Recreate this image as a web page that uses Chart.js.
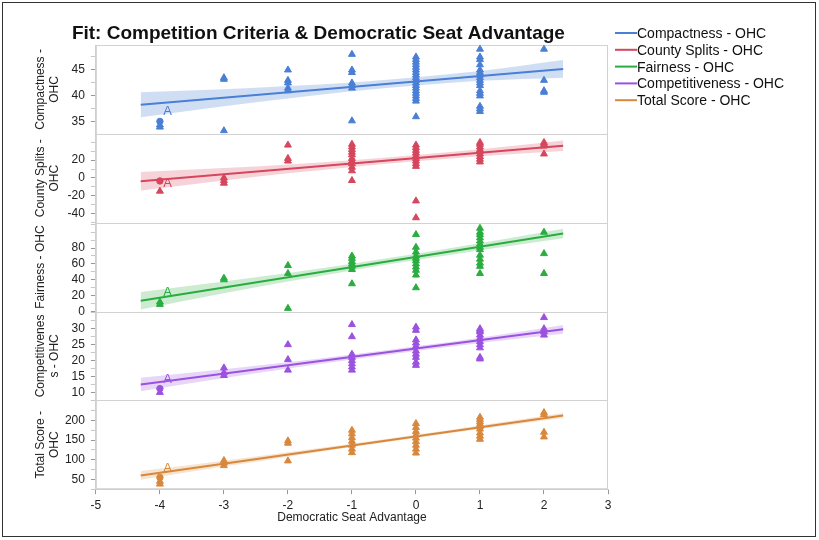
<!DOCTYPE html>
<html>
<head>
<meta charset="utf-8">
<title>Fit: Competition Criteria & Democratic Seat Advantage</title>
<script src="https://cdn.jsdelivr.net/npm/chart.js@4"></script>
<style>
  html, body { margin: 0; padding: 0; background: #fff; }
  #wrap { position: relative; width: 819px; height: 540px; }
  #grafico { position: absolute; left: 0; top: 0; }
  #moldura { position: absolute; left: 2px; top: 2px; width: 814px; height: 535px; box-sizing: border-box; border: 1.5px solid #333; pointer-events: none; }
</style>
</head>
<body>
<div id="wrap">
  <canvas id="grafico" width="819" height="540"></canvas>
  <div id="moldura"></div>
</div>
<script>
// seat advantage values (x), one list of scores per x value
const seatAdv = [-4, -3, -2, -1, 0, 1, 2];

const compactness = [
  [34.4, 34.0],
  [43.5, 43.2, 33.3],
  [45, 43, 42.5, 41.5, 41],
  [48, 45, 44.5, 42.5, 42, 41.5, 35.2],
  [47.5, 47, 46.5, 46, 45.5, 45, 44.5, 44, 43.5, 43, 42.5, 42, 41.5, 41, 40.5, 40, 39.5, 39, 36],
  [49, 47.5, 47, 46, 45, 44.5, 44, 43.5, 43, 42.5, 42, 41, 40.5, 40, 38, 37.5, 37],
  [49, 43, 41, 40.7]
];
const countySplits = [
  [-15],
  [0, -3, -6],
  [37, 22, 19],
  [38, 35, 32, 29, 26, 22, 19, 16, 12, 8, -3],
  [37, 34, 31, 28, 25, 22, 19, 16, 13, -26, -45],
  [40, 38, 35, 32, 30, 27, 24, 21, 18],
  [40, 38, 36, 27]
];
const fairness = [
  [12, 9],
  [42, 40],
  [58, 48, 4],
  [70, 67, 63, 60, 57, 53, 35],
  [97, 81, 75, 70, 67, 64, 60, 56, 52, 46, 30],
  [105, 100, 97, 93, 89, 85, 81, 78, 71, 66, 61, 57, 48],
  [100, 73, 48]
];
const competitiveness = [
  [10],
  [17.7, 16.2, 15.3],
  [25, 20.3, 17],
  [31.3, 27.5, 22, 21, 20, 19, 18, 17],
  [30.5, 29.5, 26.5, 25.5, 24.5, 23, 22, 21, 19.5, 18.5],
  [30, 29.5, 29, 28, 27, 26, 25, 24, 21, 20.5],
  [33.5, 30, 29, 28]
];
const totalScore = [
  [45, 38],
  [98, 92, 85],
  [148, 142, 97],
  [175, 166, 156, 147, 137, 127, 118],
  [192, 182, 172, 163, 155, 146, 137, 127, 117],
  [208, 202, 196, 190, 184, 178, 168, 160, 152],
  [220, 215, 170, 158]
];

// round markers at x = -4
const dotX = -4;
const compactDots = [35.1];
const countyDots = [-3.5];
const fairDots = [];
const compDots = [11.2];
const totalDots = [55];

// fitted lines
const fitX = [-4.3, 2.3];
const fitCompact = [38.3, 45.2];
const fitCounty = [-3.9, 36.3];
const fitFair = [13.7, 98.4];
const fitComp = [12.5, 29.8];
const fitTotal = [60.1, 212.6];

// confidence band of each fit
const bandX = [-4.3, -3, -2, -1, 0, 1, 2.3];
const compactUpper = [40.7, 41.3, 41.9, 42.6, 43.6, 44.8, 46.9];
const compactLower = [35.9, 38.0, 39.5, 40.9, 42.0, 42.9, 43.5];
const countyUpper = [6.6, 11.0, 15.1, 20.0, 25.8, 32.4, 42.3];
const countyLower = [-14.4, -3.0, 5.1, 12.4, 18.8, 24.4, 30.3];
const fairUpper = [24.7, 37.9, 48.7, 60.2, 72.9, 86.0, 104.4];
const fairLower = [2.7, 22.9, 37.7, 51.8, 64.9, 77.4, 92.4];
const compUpper = [14.6, 17.3, 19.5, 21.9, 24.5, 27.2, 31.2];
const compLower = [10.4, 14.5, 17.5, 20.3, 23.0, 25.5, 28.4];
const totalUpper = [71.1, 97.6, 118.7, 140.5, 163.4, 187.0, 219.1];
const totalLower = [49.1, 82.6, 107.7, 132.1, 155.4, 178.0, 206.1];

// labelled point "A"
const tagX = -3.88;
const tagY = [37.1, -6.2, 23.8, 14.1, 77.8];

// tick labels shown on each y axis
const compactTicks = [35, 40, 45];
const countyTicks = [-40, -20, 0, 20];
const fairTicks = [0, 20, 40, 60, 80];
const compTicks = [10, 15, 20, 25, 30];
const totalTicks = [50, 100, 150, 200];
const xTicks = [-5, -4, -3, -2, -1, 0, 1, 2, 3];

const paineis = [
  { id: 'yCompact', nome: 'Compactness - OHC', titulo: ['Compactness -', 'OHC'], cor: '#4a7fd6', faixa: 'rgba(74,127,214,0.26)',
    pts: compactness, dots: compactDots, fit: fitCompact, sup: compactUpper, inf: compactLower, min: 32.7, max: 49.8, passo: 2.5, rotulos: compactTicks },
  { id: 'yCounty', nome: 'County Splits - OHC', titulo: ['County Splits -', 'OHC'], cor: '#d6465c', faixa: 'rgba(214,70,92,0.24)',
    pts: countySplits, dots: countyDots, fit: fitCounty, sup: countyUpper, inf: countyLower, min: -50.6, max: 49.7, passo: 10, rotulos: countyTicks },
  { id: 'yFair', nome: 'Fairness - OHC', titulo: 'Fairness - OHC', cor: '#2aad40', faixa: 'rgba(42,173,64,0.24)',
    pts: fairness, dots: fairDots, fit: fitFair, sup: fairUpper, inf: fairLower, min: 0, max: 112, passo: 10, rotulos: fairTicks },
  { id: 'yComp', nome: 'Competitiveness - OHC', titulo: ['Competitivenes', 's - OHC'], cor: '#9c52e0', faixa: 'rgba(156,82,224,0.24)',
    pts: competitiveness, dots: compDots, fit: fitComp, sup: compUpper, inf: compLower, min: 7.5, max: 35.4, passo: 2.5, rotulos: compTicks },
  { id: 'yTotal', nome: 'Total Score - OHC', titulo: ['Total Score -', 'OHC'], cor: '#d8883c', faixa: 'rgba(216,136,60,0.24)',
    pts: totalScore, dots: totalDots, fit: fitTotal, sup: totalUpper, inf: totalLower, min: 25, max: 251, passo: 25, rotulos: totalTicks }
];

Chart.defaults.font.family = '"Liberation Sans", Arial, Helvetica, sans-serif';
Chart.defaults.font.size = 12;
Chart.defaults.color = '#222';

const datasets = [];
paineis.forEach(p => {
  const pontos = [];
  p.pts.forEach((lista, i) => lista.forEach(v => pontos.push({ x: seatAdv[i], y: v })));
  datasets.push({
    data: pontos, yAxisID: p.id, pointStyle: 'triangle', pointRadius: 4,
    backgroundColor: p.cor, borderColor: p.cor, borderWidth: 1
  });
  datasets.push({
    data: p.dots.map(v => ({ x: dotX, y: v })), yAxisID: p.id, pointStyle: 'circle', pointRadius: 3.2,
    backgroundColor: p.cor, borderColor: p.cor
  });
  datasets.push({
    label: p.nome, data: fitX.map((x, i) => ({ x, y: p.fit[i] })), yAxisID: p.id,
    showLine: true, borderColor: p.cor, borderWidth: 2, pointRadius: 0
  });
  datasets.push({
    data: bandX.map((x, i) => ({ x, y: p.sup[i] })), yAxisID: p.id, showLine: true,
    cubicInterpolationMode: 'monotone', borderWidth: 0, pointRadius: 0,
    fill: '+1', backgroundColor: p.faixa
  });
  datasets.push({
    data: bandX.map((x, i) => ({ x, y: p.inf[i] })), yAxisID: p.id, showLine: true,
    cubicInterpolationMode: 'monotone', borderWidth: 0, pointRadius: 0
  });
});

const scales = {
  x: {
    type: 'linear', min: -5, max: 3,
    border: { color: '#cfcfcf' },
    grid: { drawOnChartArea: false, tickLength: 5, color: '#999' },
    afterBuildTicks: s => { s.ticks = xTicks.map(v => ({ value: v })); },
    ticks: { padding: 4, color: '#222', font: { size: 12 } },
    title: { display: true, text: 'Democratic Seat Advantage', color: '#222', font: { size: 12 }, padding: { top: -6, bottom: 4 } }
  }
};
// bottom panel first: stacked axes are placed from the last one downwards.
// each left axis is capped at about a tenth of the free width, so the
// titles sit a little past the axis box edge
paineis.slice().reverse().forEach(p => {
  scales[p.id] = {
    type: 'linear', position: 'left', stack: 'paineis', stackWeight: 1,
    min: p.min, max: p.max,
    border: { color: '#cfcfcf' },
    grid: {
      drawOnChartArea: false, tickLength: 5,
      color: c => (c.tick && p.rotulos.includes(c.tick.value)) ? '#999' : '#c8c8c8'
    },
    ticks: {
      stepSize: p.passo, includeBounds: false, autoSkip: false, padding: 6,
      color: '#222', font: { size: 12 },
      callback: v => p.rotulos.includes(v) ? String(v) : ''
    },
    title: { display: true, text: p.titulo, color: '#222', font: { size: 12 }, padding: { top: -6, bottom: 8 } }
  };
});

const decoracao = {
  id: 'decoracao',
  beforeDatasetsDraw(chart) {
    const { ctx, chartArea: a } = chart;
    ctx.save();
    ctx.strokeStyle = '#d2d2d2';
    ctx.lineWidth = 1;
    ctx.strokeRect(a.left + 0.5, a.top + 0.5, a.width - 1, a.height - 1);
    paineis.forEach((p, i) => {
      if (i === 0) return;
      const y = Math.round(chart.scales[p.id].top) + 0.5;
      ctx.beginPath();
      ctx.moveTo(a.left, y);
      ctx.lineTo(a.right, y);
      ctx.stroke();
    });
    ctx.restore();
  },
  afterDraw(chart) {
    const { ctx, chartArea: a } = chart;
    const sx = chart.scales.x;
    ctx.save();
    // "A" labels
    ctx.font = '13px "Liberation Sans", Arial, sans-serif';
    ctx.textAlign = 'center';
    ctx.textBaseline = 'middle';
    paineis.forEach((p, i) => {
      ctx.fillStyle = p.cor;
      ctx.fillText('A', sx.getPixelForValue(tagX), chart.scales[p.id].getPixelForValue(tagY[i]));
    });
    // title
    ctx.textAlign = 'left';
    ctx.textBaseline = 'alphabetic';
    ctx.fillStyle = '#111';
    ctx.font = 'bold 19px "Liberation Sans", Arial, sans-serif';
    ctx.fillText('Fit: Competition Criteria & Democratic Seat Advantage', a.left - 24, 39);
    // legend
    ctx.font = '14px "Liberation Sans", Arial, sans-serif';
    paineis.forEach((p, i) => {
      const y = 33 + i * 16.8;
      ctx.strokeStyle = p.cor;
      ctx.lineWidth = 2;
      ctx.beginPath();
      ctx.moveTo(a.right + 7, y);
      ctx.lineTo(a.right + 29, y);
      ctx.stroke();
      ctx.fillStyle = '#111';
      ctx.fillText(p.nome, a.right + 29, y + 5);
    });
    ctx.restore();
  }
};

new Chart(document.getElementById('grafico'), {
  type: 'scatter',
  data: { datasets },
  options: {
    responsive: false,
    animation: false,
    layout: { padding: { left: 39, right: 211, top: 45, bottom: 11 } },
    plugins: { legend: { display: false }, tooltip: { enabled: false } },
    scales
  },
  plugins: [decoracao]
});
</script>
</body>
</html>
